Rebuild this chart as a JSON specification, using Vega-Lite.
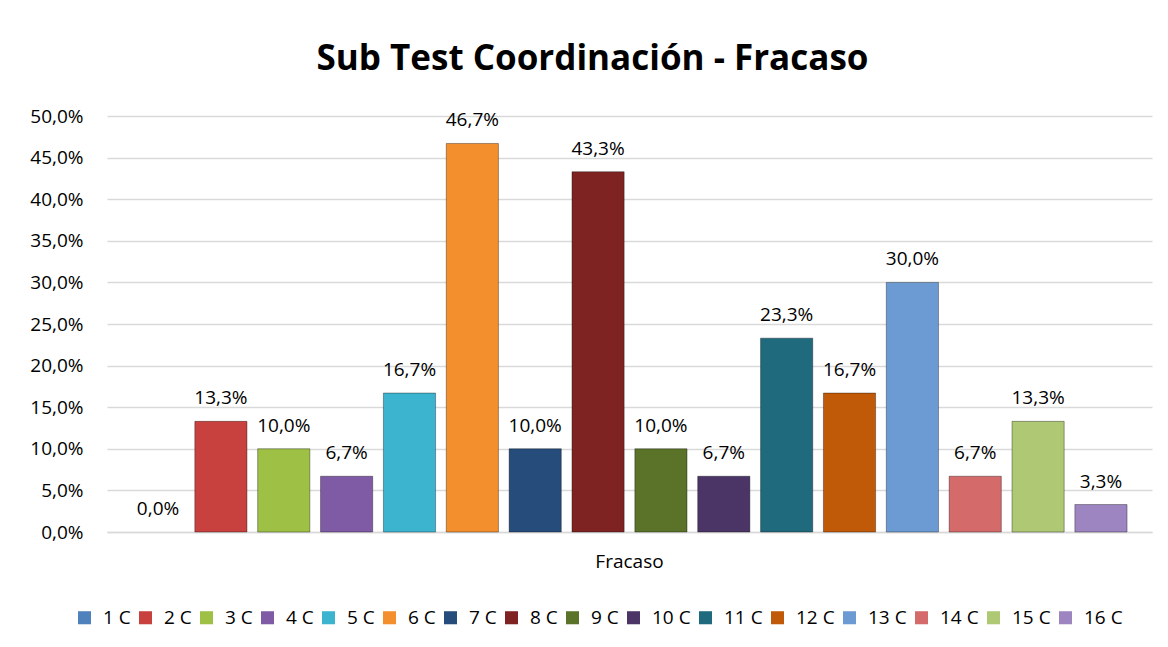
{
  "$schema": "https://vega.github.io/schema/vega-lite/v6.json",
  "autosize": {"type": "none"},
  "width": 1045,
  "height": 416,
  "padding": {"left": 107, "top": 116, "right": 16, "bottom": 115},
  "background": "white",
  "config": {
    "font": "Open Sans",
    "view": {"stroke": null},
    "locale": {"number": {"decimal": ",", "thousands": ".", "grouping": [3], "currency": ["", " €"]}}
  },
  "title": {
    "text": "Sub Test Coordinación - Fracaso",
    "font": "Open Sans",
    "fontSize": 35,
    "fontWeight": "bold",
    "color": "#000000",
    "anchor": "middle",
    "dx": -37,
    "offset": 30
  },
  "data": {
    "values": [
      {"categoria": "Fracaso", "grupo": "1 C", "valor": 0.0},
      {"categoria": "Fracaso", "grupo": "2 C", "valor": 0.133},
      {"categoria": "Fracaso", "grupo": "3 C", "valor": 0.1},
      {"categoria": "Fracaso", "grupo": "4 C", "valor": 0.067},
      {"categoria": "Fracaso", "grupo": "5 C", "valor": 0.167},
      {"categoria": "Fracaso", "grupo": "6 C", "valor": 0.467},
      {"categoria": "Fracaso", "grupo": "7 C", "valor": 0.1},
      {"categoria": "Fracaso", "grupo": "8 C", "valor": 0.433},
      {"categoria": "Fracaso", "grupo": "9 C", "valor": 0.1},
      {"categoria": "Fracaso", "grupo": "10 C", "valor": 0.067},
      {"categoria": "Fracaso", "grupo": "11 C", "valor": 0.233},
      {"categoria": "Fracaso", "grupo": "12 C", "valor": 0.167},
      {"categoria": "Fracaso", "grupo": "13 C", "valor": 0.3},
      {"categoria": "Fracaso", "grupo": "14 C", "valor": 0.067},
      {"categoria": "Fracaso", "grupo": "15 C", "valor": 0.133},
      {"categoria": "Fracaso", "grupo": "16 C", "valor": 0.033}
    ]
  },
  "encoding": {
    "x": {
      "field": "categoria",
      "type": "nominal",
      "scale": {"paddingInner": 0, "paddingOuter": 0.0195},
      "axis": {
        "title": null,
        "labelAngle": 0,
        "labelFontSize": 19,
        "labelColor": "#000000",
        "labelPadding": 20,
        "ticks": false,
        "domain": true,
        "domainColor": "#D9D9D9",
        "domainWidth": 1.3
      }
    },
    "xOffset": {
      "field": "grupo",
      "type": "nominal",
      "sort": null,
      "scale": {"paddingInner": 0.17, "paddingOuter": 0.085}
    },
    "y": {
      "field": "valor",
      "type": "quantitative",
      "scale": {"domain": [0, 0.5], "nice": false},
      "axis": {
        "title": null,
        "format": ".1%",
        "values": [0, 0.05, 0.1, 0.15, 0.2, 0.25, 0.3, 0.35, 0.4, 0.45, 0.5],
        "labelFontSize": 19,
        "labelColor": "#000000",
        "labelPadding": 24,
        "ticks": false,
        "domain": false,
        "gridColor": "#D9D9D9",
        "gridWidth": 1.3
      }
    }
  },
  "layer": [
    {
      "mark": {"type": "bar", "stroke": "#000000", "strokeWidth": 1},
      "encoding": {
        "strokeOpacity": {"condition": {"test": "datum.valor > 0", "value": 0.35}, "value": 0},
        "color": {
          "field": "grupo",
          "type": "nominal",
          "sort": null,
          "scale": {
            "range": ["#4F81BD", "#C8413F", "#9DC045", "#7F5BA6", "#3CB4CF", "#F38F2C", "#264C7C", "#7F2322", "#5A7328", "#4A3566", "#1F6A7D", "#C05A08", "#6C9BD4", "#D46A69", "#AEC874", "#9D85C2"]
          },
          "legend": {
            "title": null,
            "orient": "none",
            "legendX": -32,
            "legendY": 492,
            "direction": "horizontal",
            "columns": 16,
            "symbolType": "square",
            "symbolSize": 170,
            "symbolStrokeWidth": 0,
            "labelFontSize": 19,
            "labelColor": "#000000",
            "labelOffset": 9,
            "columnPadding": 5
          }
        }
      }
    },
    {
      "mark": {"type": "text", "baseline": "alphabetic", "dy": -17, "fontSize": 19, "color": "#000000"},
      "encoding": {
        "text": {"field": "valor", "type": "quantitative", "format": ".1%"}
      }
    }
  ]
}
